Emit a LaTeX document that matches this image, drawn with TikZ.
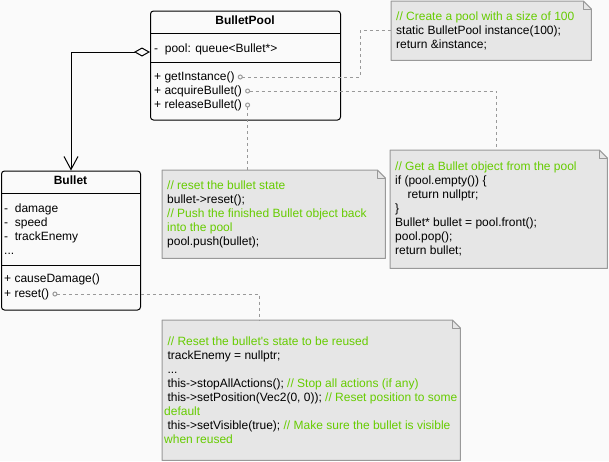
\documentclass[tikz,border=0pt]{standalone}
\usepackage{fontspec}
\setmainfont{Liberation Sans}[Ligatures=TeXOff]
\usetikzlibrary{arrows.meta,backgrounds}
\definecolor{pagebg}{RGB}{250,250,250}
\definecolor{notefill}{RGB}{230,230,230}
\definecolor{notegray}{RGB}{153,153,153}
\definecolor{codegreen}{RGB}{102,204,0}
\newcommand{\umlfont}{\fontsize{12}{14}\selectfont}
\newcommand{\cmt}[1]{\textcolor{codegreen}{#1}}
\newcommand{\lsp}{\hspace*{3.3pt}}
\tikzstyle{classbox}=[draw=black,fill=pagebg,line width=1pt,rounded corners=3pt,inner sep=0pt,anchor=north west]
\tikzstyle{classname}=[font=\umlfont\bfseries,anchor=base,inner sep=0pt]
\tikzstyle{member}=[anchor=base west,inner xsep=3pt,inner ysep=0pt,text height=9pt,text depth=3pt]
\tikzstyle{notebox}=[anchor=north west,inner sep=0pt]
\tikzstyle{notetext}=[anchor=west,align=left,inner sep=0pt]
\tikzstyle{notebody}=[draw=notegray,fill=notefill,line width=1pt,line join=round]
\tikzstyle{dep}=[draw=notegray,line width=1pt,dash pattern=on 3pt off 3pt,{Circle[open,length=5pt,width=5pt]}-]
\tikzstyle{aggr}=[draw=black,line width=1pt,{Diamond[open,length=16pt,width=9pt]}-{Straight Barb[length=13pt,width=14pt]}]

\begin{document}
\begin{tikzpicture}[x=1pt,y=-1pt,font=\umlfont]
\useasboundingbox (0,0) rectangle (609,461);

% BulletPool class
\node[classbox,minimum width=190pt,minimum height=109pt] at (150, 10.5) (poolbox) {};
\draw[line width=1pt] (poolbox.west |- 0,33) -- (poolbox.east |- 0,33);
\draw[line width=1pt] (poolbox.west |- 0,62) -- (poolbox.east |- 0,62);
\node[classname] at (245, 24) (poolname) {BulletPool};
\node[member] at (151, 52) (poolattr) {-\ \ pool: queue<Bullet*>};
\node[member] at (151, 80) (getinst) {+ getInstance()};
\node[member] at (151, 94) (acquire) {+ acquireBullet()};
\node[member] at (151, 108) (release) {+ releaseBullet()};

% Bullet class
\node[classbox,minimum width=139pt,minimum height=139pt] at (1, 170.5) (bulletbox) {};
\draw[line width=1pt] (bulletbox.west |- 0,193) -- (bulletbox.east |- 0,193);
\draw[line width=1pt] (bulletbox.west |- 0,265) -- (bulletbox.east |- 0,265);
\node[classname] at (70.5, 184) (bulletname) {Bullet};
\node[member] at (1, 212) (damage) {-\ \ damage};
\node[member] at (1, 226) (speed) {-\ \ speed};
\node[member] at (1, 240) (track) {-\ \ trackEnemy};
\node[member] at (1, 254) (more) {...};
\node[member] at (1, 282) (cause) {+ causeDamage()};
\node[member] at (1, 297) (reset) {+ reset()};

% notes
\node[notebox,minimum width=200pt,minimum height=59pt] at (391, 1) (create) {};
\node[notetext] at ([xshift=5pt]create.west) (createtext) {%
\cmt{// Create a pool with a size of 100}\\
static BulletPool instance(100);\\
return \&instance;};
\node[notebox,minimum width=217pt,minimum height=118pt] at (390, 150) (getbullet) {};
\node[notetext] at ([xshift=5pt]getbullet.west) (getbullettext) {%
\cmt{// Get a Bullet object from the pool}\\
if (pool.empty()) \{\\
\hspace*{12.5pt}return nullptr;\\
\}\\
Bullet* bullet = pool.front();\\
pool.pop();\\
return bullet;};
\node[notebox,minimum width=223pt,minimum height=88pt] at (162, 170) (pushback) {};
\node[notetext] at ([xshift=5pt]pushback.west) (pushbacktext) {%
\cmt{// reset the bullet state}\\
bullet->reset();\\
\cmt{// Push the finished Bullet object back}\\
\cmt{into the pool}\\
pool.push(bullet);};
\node[notebox,minimum width=298pt,minimum height=140pt] at (162, 320) (resetbody) {};
\node[notetext] at ([xshift=2pt]resetbody.west) (resettext) {%
\lsp\cmt{// Reset the bullet's state to be reused}\\
\lsp trackEnemy = nullptr;\\
\lsp ...\\
\lsp this->stopAllActions(); \cmt{// Stop all actions (if any)}\\
\lsp this->setPosition(Vec2(0, 0)); \cmt{// Reset position to some}\\
\cmt{default}\\
\lsp this->setVisible(true); \cmt{// Make sure the bullet is visible}\\
\cmt{when reused}};

% connectors
\draw[aggr] ([yshift=-41.5pt]poolbox.north west) -| (bulletbox.north);
\draw[dep] (getinst.east) -| ([xshift=-31pt]create.west) -- (create.west);
\draw[dep] (acquire.east) -| ([xshift=-2.5pt]getbullet.north);
\draw[dep] ([xshift=2.5pt,yshift=2.5pt]release.east) -- ([xshift=2.5pt]release.east |- pushback.north);
\draw[dep] (reset.east) -| ([xshift=-52pt]resetbody.north);

\begin{scope}[on background layer]
\fill[pagebg] (0,0) rectangle (609,461);
\foreach \n in {create,getbullet,pushback,resetbody} {
  \path[notebody] (\n.north west) -- ([xshift=-8pt]\n.north east) -- ([yshift=-8pt]\n.north east) -- (\n.south east) -- (\n.south west) -- cycle;
  \draw[notebody,fill=none] ([xshift=-8pt]\n.north east) |- ([yshift=-8pt]\n.north east);
}
\end{scope}
\end{tikzpicture}
\end{document}
